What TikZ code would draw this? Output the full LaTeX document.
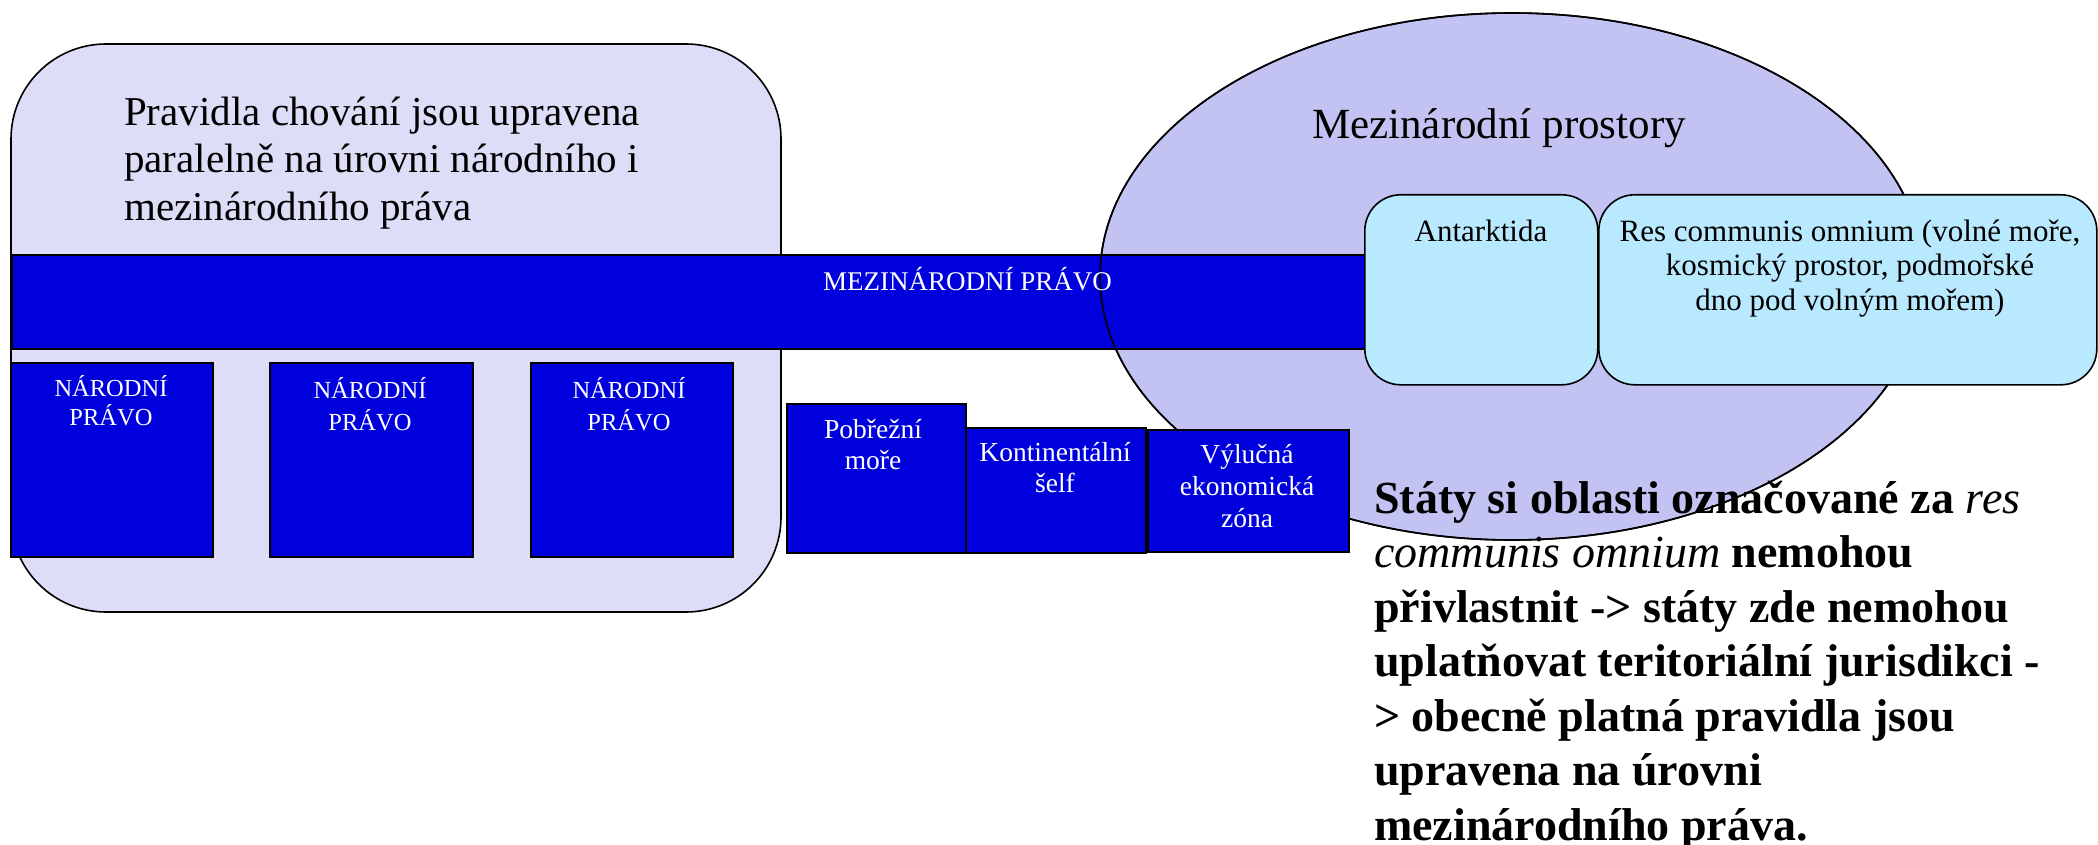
\documentclass[tikz,border=0pt]{standalone}
\usepackage{fontspec}
\setmainfont{Liberation Serif}
\usetikzlibrary{shapes.geometric}
\definecolor{lav}{RGB}{221,221,248}
\definecolor{ellfill}{RGB}{195,195,243}
\definecolor{barblue}{RGB}{0,0,221}
\definecolor{cyanbox}{RGB}{185,233,254}
\newcommand\myfs[2]{\fontsize{#1}{#2}\selectfont}
\tikzset{
  outl/.style={draw=black, line width=1.6pt},
  bluebox/.style={outl, fill=barblue, inner sep=0pt, anchor=north west},
  cyanrr/.style={outl, fill=cyanbox, rounded corners=36pt, inner sep=0pt, anchor=north west},
  whitetxt/.style={text=white, inner sep=0pt, align=center, anchor=base},
  blacktxt/.style={text=black, inner sep=0pt, anchor=base},
}
\begin{document}
\begin{tikzpicture}[x=1pt,y=-1pt]
\useasboundingbox (0,0) rectangle (2098,845);
% left rounded panel
\draw[outl, fill=lav, rounded corners=95pt] (11,44) rectangle (781,612);
% ellipse
\node[outl, fill=ellfill, ellipse, minimum width=824pt, minimum height=527pt, inner sep=0pt] (ell) at (1512,276.5) {};
% international law bar
\node[bluebox, minimum width=1600pt, minimum height=94pt] (bar) at (11,254) {};
\draw[black, line width=1.6pt] (ell.center) ellipse [x radius=412pt, y radius=263.5pt];
% national law boxes
\node[bluebox, minimum width=202pt, minimum height=194pt] (np1) at (10,362) {};
\node[bluebox, minimum width=203pt, minimum height=194pt] (np2) at (269,362) {};
\node[bluebox, minimum width=202pt, minimum height=194pt] (np3) at (530,362) {};
% maritime zones
\node[bluebox, minimum width=179pt, minimum height=149pt] (pm) at (786,403) {};
\node[bluebox, minimum width=180pt, minimum height=125pt] (ks) at (965,427) {};
\node[bluebox, minimum width=201pt, minimum height=122pt] (vez) at (1147,429) {};
% international spaces
\node[cyanrr, minimum width=233pt, minimum height=190pt] (ant) at (1364,194) {};
\node[cyanrr, minimum width=498pt, minimum height=190pt] (rco) at (1598,194) {};
% texts (base anchor = baseline of the last line)
\node[blacktxt, anchor=base west, align=left, font=\myfs{41}{47.5}] (tpanel) at (124,220)
  {Pravidla chování jsou upravena\\paralelně na úrovni národního i\\mezinárodního práva};
\node[blacktxt, font=\myfs{43}{50}] (tmp) at (1499,139) {Mezinárodní prostory};
\node[whitetxt, anchor=base west, font=\myfs{27}{31}] (tbar) at (823,290) {MEZINÁRODNÍ PRÁVO};
\node[whitetxt, font=\myfs{24.5}{29}] (tnp1) at (111,425) {NÁRODNÍ\\PRÁVO};
\node[whitetxt, font=\myfs{24.5}{32}] (tnp2) at (370,430) {NÁRODNÍ\\PRÁVO};
\node[whitetxt, font=\myfs{24.5}{32}] (tnp3) at (629,430) {NÁRODNÍ\\PRÁVO};
\node[whitetxt, font=\myfs{27.5}{31.5}] (tpm) at (873,469.5) {Pobřežní\\moře};
\node[whitetxt, font=\myfs{27.5}{31.5}] (tks) at (1055,492.5) {Kontinentální\\šelf};
\node[whitetxt, font=\myfs{27.5}{32}] (tvez) at (1247,527) {Výlučná\\ekonomická\\zóna};
\node[blacktxt, font=\myfs{31}{35}] (tant) at (1481,241) {Antarktida};
\node[blacktxt, align=center, font=\myfs{31}{34.5}] (trco) at (1850,310)
  {Res communis omnium (volné moře,\\kosmický prostor, podmořské\\dno pod volným mořem)};
\node[blacktxt, anchor=base west, align=left, font=\myfs{46}{54.5}\bfseries] (tstates) at (1374,840)
  {Státy si oblasti označované za {\mdseries\itshape res}\\
   {\mdseries\itshape communis omnium} nemohou\\
   přivlastnit -> státy zde nemohou\\
   uplatňovat teritoriální jurisdikci -\\
   > obecně platná pravidla jsou\\
   upravena na úrovni\\
   mezinárodního práva.};
\end{tikzpicture}
\end{document}
